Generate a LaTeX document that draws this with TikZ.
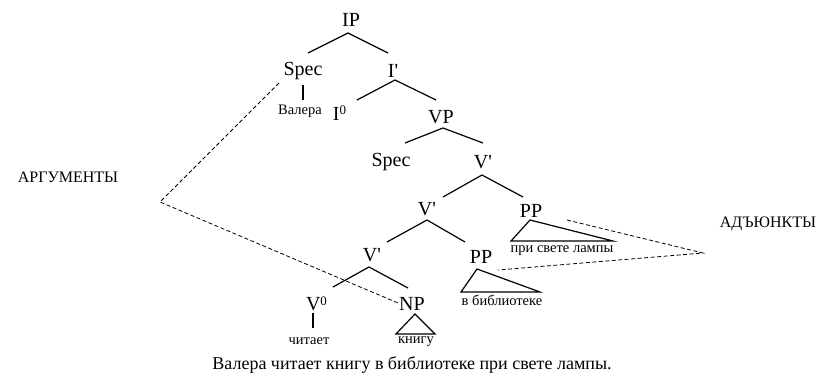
\documentclass[tikz,border=0pt]{standalone}
\usepackage{fontspec}
\setmainfont{Liberation Serif}
\usetikzlibrary{calc}
\tikzset{
  lbl/.style={inner sep=0pt, font=\fontsize{20}{20}\selectfont},
  word/.style={inner sep=0pt, font=\fontsize{14.5}{14.5}\selectfont},
  side/.style={inner sep=0pt, font=\fontsize{16}{16}\selectfont},
  sent/.style={inner sep=0pt, font=\fontsize{18}{18}\selectfont},
  branch/.style={line width=1.2pt},
  link/.style={line width=0.8pt, dash pattern=on 4pt off 2.5pt}
}
\newcommand{\supz}{\raisebox{0.6ex}{\fontsize{13}{13}\selectfont 0}}
\newcommand{\prm}{\textquotesingle}
\begin{document}
\begin{tikzpicture}[x=1pt,y=-1pt]
\useasboundingbox (0,0) rectangle (821,375);
% nodes
\node[lbl] (IP) at (351,20) {IP};
\node[lbl] (SpecA) at (303,71) {Spec};
\node[lbl] (Ib) at (393,71) {I\prm};
\node[word] (Valera) at (300,111) {Валера};
\node[lbl] (I0) at (339.5,113) {I\supz};
\node[lbl] (VP) at (441,117) {VP};
\node[lbl] (SpecB) at (391,162) {Spec};
\node[lbl] (Va) at (483,162) {V\prm};
\node[lbl] (Vb) at (427,209) {V\prm};
\node[lbl] (PPa) at (531,211) {PP};
\node[word] (pri) at (562,251) {при свете лампы};
\node[lbl] (Vc) at (372,255) {V\prm};
\node[lbl] (PPb) at (481,257) {PP};
\node[word] (vbib) at (502,300) {в библиотеке};
\node[lbl] (V0) at (316.5,304) {V\supz};
\node[lbl] (NP) at (412,304) {NP};
\node[word] (chit) at (309,341) {читает};
\node[word] (knig) at (416,342) {книгу};
\node[sent] (sentence) at (412,365) {Валера читает книгу в библиотеке при свете лампы.};
\node[side] (arg) at (68,177) {АРГУМЕНТЫ};
\node[side] (adj) at (768,224) {АДЪЮНКТЫ};
\coordinate (argv) at (160,202);
\coordinate (adjv) at (703,253);
% branches
\draw[branch] ($(IP)+(-3,13)$) -- ($(SpecA)+(5,-18)$);
\draw[branch] ($(IP)+(-3,13)$) -- ($(Ib)+(-5,-18)$);
\draw[branch] ($(SpecA)+(0,14)$) -- ($(Valera)+(3,-11)$);
\draw[branch] ($(Ib)+(2,9)$) -- ($(I0)+(17.5,-13)$);
\draw[branch] ($(Ib)+(2,9)$) -- ($(VP)+(-5,-17)$);
\draw[branch] ($(VP)+(2,11)$) -- ($(SpecB)+(14,-19)$);
\draw[branch] ($(VP)+(2,11)$) -- ($(Va)+(0,-19)$);
\draw[branch] ($(Va)+(-1,13)$) -- ($(Vb)+(16,-12)$);
\draw[branch] ($(Va)+(-1,13)$) -- ($(PPa)+(-8,-14)$);
\draw[branch] ($(Vb)+(0,11)$) -- ($(Vc)+(15,-13)$);
\draw[branch] ($(Vb)+(0,11)$) -- ($(PPb)+(-16,-15)$);
\draw[branch] ($(Vc)+(-3,12)$) -- ($(V0)+(16.5,-17)$);
\draw[branch] ($(Vc)+(-3,12)$) -- ($(NP)+(-4,-16)$);
\draw[branch] ($(V0)+(-3.5,9)$) -- ($(chit)+(4,-13)$);
% triangles
\draw[branch, line join=miter] ($(PPa)+(-1,9)$) -- ($(pri)+(-51,-10)$) -- ($(pri)+(51,-10)$) -- cycle;
\draw[branch, line join=miter] ($(PPb)+(-4,12)$) -- ($(vbib)+(-41,-8)$) -- ($(vbib)+(38,-8)$) -- cycle;
\draw[branch, line join=miter] ($(NP)+(3,10)$) -- ($(knig)+(-20,-8)$) -- ($(knig)+(19,-8)$) -- cycle;
% dashed links
\draw[link] ($(SpecA)+(-24,12)$) -- (argv) -- ($(NP)+(-14,-1)$);
\draw[link] ($(PPa)+(36,9)$) -- (adjv) -- ($(PPb)+(17,13)$);
\end{tikzpicture}
\end{document}
